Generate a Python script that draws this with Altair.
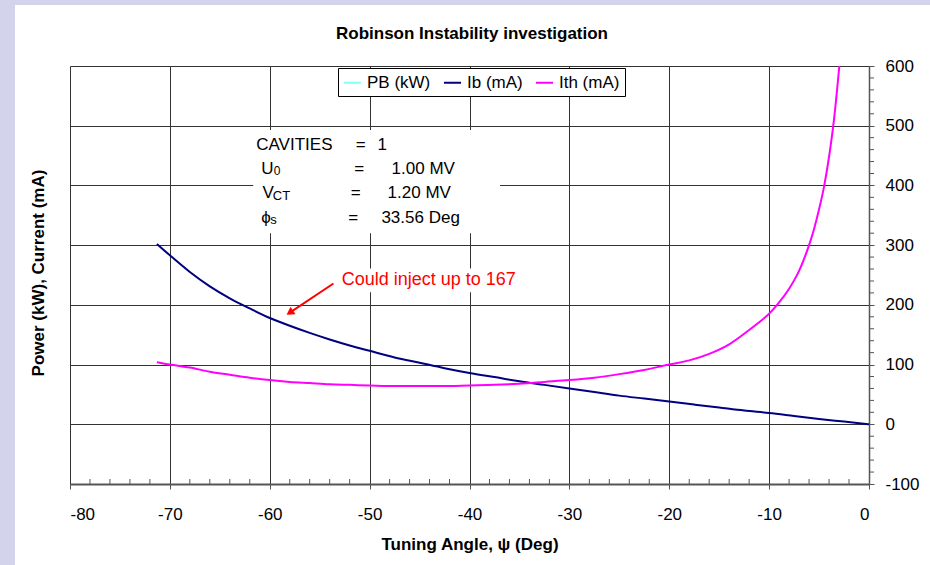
import altair as alt
import pandas as pd

# ---------------- data ----------------
series_names = ["PB (kW)", "Ib (mA)", "Ith (mA)"]
series_colors = ["#80FFFF", "#000080", "#FF00FF"]

ib_angles = [-71.3, -70, -68, -66, -64, -62, -60, -58, -56, -54, -52, -50, -47.5, -45,
             -42.5, -40, -37.5, -35, -32.5, -30, -27.5, -25, -22.5, -20, -17.5, -15,
             -12.5, -10, -7.5, -5, -2.5, 0]
ib_values = [302, 283, 255, 231, 211, 194, 178, 165, 153, 142, 132, 123, 112, 103,
             94, 86, 79, 72, 66, 60, 54, 48, 43, 38, 33, 28,
             23, 19, 14, 9, 4.5, 0]

ith_angles = [-71.3, -70, -68, -66, -64, -62, -60, -58, -56, -54, -52, -50, -47.5, -45,
              -42.5, -40, -37.5, -35, -32.5, -30, -27.5, -25, -22.5, -20, -18, -16,
              -14, -12, -11, -10, -9, -8, -7.5, -7, -6.5, -6, -5.5, -5, -4.5, -4, -3.5, -2.97]
ith_values = [104, 100, 95, 88, 83, 78, 74, 71, 69, 67, 66, 65, 64, 64,
              64, 65, 66, 68, 71, 74, 78, 84, 91, 100, 107, 118,
              134, 158, 171, 185, 204, 227, 241, 257, 277, 300, 327, 360, 398, 448, 511, 600]

x_ticks = [-80, -70, -60, -50, -40, -30, -20, -10, 0]
y_ticks = [-100, 0, 100, 200, 300, 400, 500, 600]
x_minor = [v for v in range(-78, 0, 2) if v % 10 != 0]
y_minor = [v for v in range(-80, 600, 20) if v % 100 != 0]

chart_title = "Robinson Instability investigation"
x_title = "Tuning Angle, \u03c8 (Deg)"
y_title = "Power (kW), Current (mA)"
param_labels = ["CAVITIES", "U", "V", "\u03d5"]
param_subs = ["", "0", "CT", "s"]
param_values = ["1", "1.00 MV", "1.20 MV", "33.56 Deg"]
note_text = "Could inject up to 167"

# ---------------- layout ----------------
W, H = 799, 418
PAD = {"left": 70, "top": 66, "right": 61, "bottom": 81}
FONT = "Liberation Sans"
LAV = "#D3D3EB"

xs = alt.Scale(domain=[-80, 0], nice=False, zero=False)
ys = alt.Scale(domain=[-100, 600], nice=False, zero=False)

curves = pd.DataFrame({
    "angle": ib_angles + ith_angles,
    "value": ib_values + ith_values,
    "series": ["Ib (mA)"] * len(ib_angles) + ["Ith (mA)"] * len(ith_angles),
})

one = pd.DataFrame({"k": [0]})

bg_left = alt.Chart(one).mark_rect(color=LAV).encode(
    x=alt.value(-PAD["left"]), x2=alt.value(-PAD["left"] + 15),
    y=alt.value(-PAD["top"]), y2=alt.value(H + PAD["bottom"]))
bg_top = alt.Chart(one).mark_rect(color=LAV).encode(
    x=alt.value(-PAD["left"]), x2=alt.value(W + PAD["right"]),
    y=alt.value(-PAD["top"]), y2=alt.value(-PAD["top"] + 5))

# white boxes behind the parameter text and the red note
boxes = alt.Chart(pd.DataFrame({"angle": [-61.66, -52.95], "angle2": [-36.94, -34.93],
                                "value": [492.7, 261.0], "value2": [320.1, 221.0]})).mark_rect(
    color="white").encode(
    x=alt.X("angle:Q", scale=xs), x2="angle2:Q",
    y=alt.Y("value:Q", scale=ys), y2="value2:Q")

minor_x = alt.Chart(pd.DataFrame({"angle": x_minor})).mark_rule(color="#555", strokeWidth=1).encode(
    x=alt.X("angle:Q", scale=xs), y=alt.value(H), y2=alt.value(H - 5))
minor_y = alt.Chart(pd.DataFrame({"value": y_minor})).mark_rule(color="#555", strokeWidth=1).encode(
    y=alt.Y("value:Q", scale=ys), x=alt.value(W), x2=alt.value(W + 5))

lines = alt.Chart(curves).mark_line(interpolate="monotone").encode(
    x=alt.X("angle:Q", scale=xs, axis=alt.Axis(
        values=x_ticks, title=x_title, grid=True,
        labelExpr="toString(datum.value)", labelFont=FONT, labelFontSize=17, labelColor="black",
        labelPadding=17, tickSize=5, tickColor="#555", domainColor="#555", domainWidth=2,
        gridColor="#333333", gridWidth=1, titleFont=FONT, titleFontSize=17,
        titleFontWeight="bold", titleColor="black", titleY=65, titleBaseline="alphabetic")),
    y=alt.Y("value:Q", scale=ys, axis=alt.Axis(
        orient="right", values=y_ticks, title="", grid=True,
        labelExpr="toString(datum.value)", labelFont=FONT, labelFontSize=17, labelColor="black",
        labelPadding=11, tickSize=5, tickColor="#555", domainColor="#555", domainWidth=1.5,
        gridColor="#333333", gridWidth=1)),
    color=alt.Color("series:N", scale=alt.Scale(domain=series_names, range=series_colors),
                    legend=alt.Legend(
                        orient="none", legendX=268, legendY=2, direction="horizontal", title=None,
                        labelFont=FONT, labelFontSize=17, labelColor="black",
                        symbolType="stroke", symbolSize=289, symbolStrokeWidth=2.5,
                        labelOffset=5, columnPadding=9, padding=5,
                        strokeColor="black", fillColor="white")),
    strokeWidth=alt.StrokeWidth("series:N", scale=alt.Scale(domain=series_names, range=[2, 2, 3]),
                                legend=None),
)

# parameter annotation text (data coordinates)
ann = pd.DataFrame({
    "text": [param_labels[0], "=", param_values[0],
             param_labels[1], param_subs[1], "=", param_values[1],
             param_labels[2], param_subs[2], "=", param_values[2],
             param_labels[3], param_subs[3], "=", param_values[3]],
    "angle": [-61.35, -51.4, -49.2,
              -60.86, -59.6, -51.55, -47.8,
              -60.73, -59.69, -51.88, -48.2,
              -60.85, -59.96, -52.15, -48.82],
    "value": [459, 459, 459,
              419, 417.5, 419, 419,
              378.3, 375.4, 378.3, 378.3,
              337.4, 335, 337.4, 337.4],
    "size": [17, 17, 17,
             17, 12, 17, 17,
             17, 13, 17, 17,
             17, 13, 17, 17],
})
ann_text = alt.Chart(ann).mark_text(align="left", baseline="alphabetic", font=FONT, color="black").encode(
    x=alt.X("angle:Q", scale=xs), y=alt.Y("value:Q", scale=ys),
    text="text:N", size=alt.Size("size:Q", scale=None, legend=None))

note = alt.Chart(pd.DataFrame({"angle": [-52.8], "value": [233], "text": [note_text]})).mark_text(
    align="left", baseline="alphabetic", font=FONT, fontSize=18, color="#FF0000").encode(
    x=alt.X("angle:Q", scale=xs), y=alt.Y("value:Q", scale=ys), text="text:N")

arrow_line = alt.Chart(pd.DataFrame({"angle": [-53.62], "value": [235.8],
                                     "angle2": [-57.99], "value2": [186.9]})).mark_rule(
    color="#FF0000", strokeWidth=2).encode(
    x=alt.X("angle:Q", scale=xs), y=alt.Y("value:Q", scale=ys), x2="angle2:Q", y2="value2:Q")
arrow_head = alt.Chart(pd.DataFrame({"angle": [-57.99], "value": [186.9]})).mark_point(
    shape="triangle-up", filled=True, color="#FF0000", size=80, angle=236, opacity=1).encode(
    x=alt.X("angle:Q", scale=xs), y=alt.Y("value:Q", scale=ys))

ytitle = alt.Chart(one).mark_text(angle=270, align="center", baseline="alphabetic", font=FONT,
                                  fontSize=17, fontWeight="bold", color="black").encode(
    x=alt.value(-26), y=alt.value(207), text=alt.value(y_title))

ctitle = alt.Chart(one).mark_text(align="center", baseline="alphabetic", font=FONT,
                                  fontSize=17, fontWeight="bold", color="black").encode(
    x=alt.value(402), y=alt.value(-27), text=alt.value(chart_title))

chart = alt.layer(
    bg_left, bg_top, boxes, minor_x, minor_y, lines, arrow_line, arrow_head, note, ann_text, ytitle, ctitle
).properties(
    width=W, height=H,
    autosize=alt.AutoSizeParams(type="none"),
    padding=PAD,
    background="white",
).configure_view(strokeWidth=0)

chart.save("out.html", embed_options={"renderer": "svg", "actions": False})
